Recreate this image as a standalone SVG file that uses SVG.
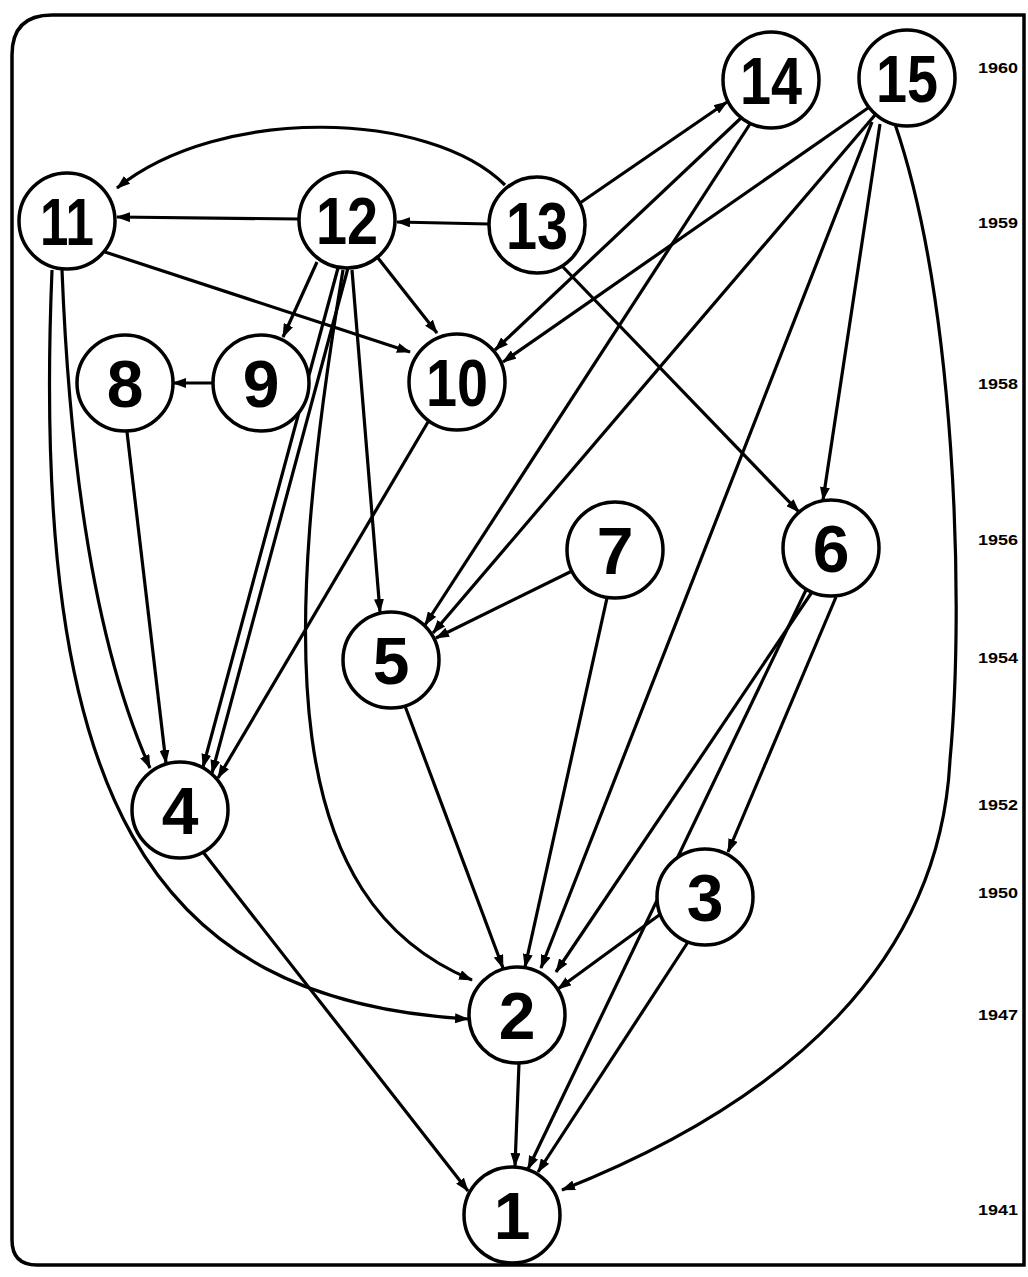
<svg xmlns="http://www.w3.org/2000/svg" width="1028" height="1277" viewBox="0 0 1028 1277">
<style>
.frame{fill:none;stroke:#000;stroke-width:3.5}
.node circle{fill:#fff;stroke:#000;stroke-width:3.5}
.node text{font-family:"Liberation Sans",Arial,sans-serif;font-weight:bold;font-size:66px;text-anchor:middle;fill:#000}
.edge{fill:none;stroke:#000;stroke-width:3.2;marker-end:url(#ah)}
.yr{font-family:"Liberation Sans",Arial,sans-serif;font-weight:bold;font-size:14px;text-anchor:end;fill:#000}
</style>
<defs>
<marker id="ah" viewBox="0 0 14 10" refX="13" refY="5" markerWidth="14" markerHeight="10" markerUnits="userSpaceOnUse" orient="auto"><path d="M0,0 L14,5 L0,10 z" fill="#000"/></marker>
</defs>
<rect width="1028" height="1277" fill="#fff"/>
<path class="frame" d="M1024,15 L52,15 Q12,15 12,55 L12,1240 Q12,1265 37,1265 L1024,1265 Z"/>
<g id="years">
<text class="yr" x="1018" y="73" textLength="40" lengthAdjust="spacingAndGlyphs">1960</text>
<text class="yr" x="1018" y="228" textLength="40" lengthAdjust="spacingAndGlyphs">1959</text>
<text class="yr" x="1018" y="389" textLength="40" lengthAdjust="spacingAndGlyphs">1958</text>
<text class="yr" x="1018" y="545" textLength="40" lengthAdjust="spacingAndGlyphs">1956</text>
<text class="yr" x="1018" y="663" textLength="40" lengthAdjust="spacingAndGlyphs">1954</text>
<text class="yr" x="1018" y="810" textLength="40" lengthAdjust="spacingAndGlyphs">1952</text>
<text class="yr" x="1018" y="898" textLength="40" lengthAdjust="spacingAndGlyphs">1950</text>
<text class="yr" x="1018" y="1020" textLength="40" lengthAdjust="spacingAndGlyphs">1947</text>
<text class="yr" x="1018" y="1215" textLength="40" lengthAdjust="spacingAndGlyphs">1941</text>
</g>
<g id="connectors">
<path id="e13-11" class="edge" d="M505,185 C430,110 220,105 117,188"/>
<path id="e12-11" class="edge" d="M299,219 L117,217"/>
<path id="e13-12" class="edge" d="M489,224 L397,222"/>
<path id="e13-14" class="edge" d="M580,203 L727,102"/>
<path id="e11-10" class="edge" d="M105,252 L410,352"/>
<path id="e12-9" class="edge" d="M317,262 L283,337"/>
<path id="e12-10" class="edge" d="M378,258 L437,333"/>
<path id="e9-8" class="edge" d="M213,383 L173,383"/>
<path id="e14-10" class="edge" d="M741,118 L495,350"/>
<path id="e15-10" class="edge" d="M868,108 L503,362"/>
<path id="e14-5" class="edge" d="M750,124 L425,625"/>
<path id="e15-5" class="edge" d="M875,115 L433,633"/>
<path id="e7-5" class="edge" d="M572,571 L436,638"/>
<path id="e12-5" class="edge" d="M352,270 L380,612"/>
<path id="e12-4a" class="edge" d="M338,268 L203,767"/>
<path id="e12-4b" class="edge" d="M348,268 L212,773"/>
<path id="e10-4" class="edge" d="M428,422 L218,778"/>
<path id="e11-4" class="edge" d="M62,270 Q75,600 150,768"/>
<path id="e8-4" class="edge" d="M127,432 L166,763"/>
<path id="e11-2" class="edge" d="M52,270 C30,800 150,1000 468,1019"/>
<path id="e12-2" class="edge" d="M343,270 C280,650 280,900 472,980"/>
<path id="e5-2" class="edge" d="M405,706 L503,968"/>
<path id="e7-2" class="edge" d="M607,598 L525,967"/>
<path id="e15-2" class="edge" d="M872,122 L541,968"/>
<path id="e6-2" class="edge" d="M812,592 L556,972"/>
<path id="e3-2" class="edge" d="M662,913 L558,989"/>
<path id="e6-3" class="edge" d="M836,597 L728,852"/>
<path id="e6-1" class="edge" d="M806,590 L528,1169"/>
<path id="e3-1" class="edge" d="M688,942 L538,1172"/>
<path id="e2-1" class="edge" d="M519,1063 L515,1166"/>
<path id="e4-1" class="edge" d="M203,852 L468,1191"/>
<path id="e15-1" class="edge" d="M895,124 C955,300 965,600 950,760 C940,960 790,1100 562,1190"/>
<path id="e15-6" class="edge" d="M880,124 L823,500"/>
<path id="e13-6" class="edge" d="M562,266 L799,512"/>
</g>
<g id="n1" class="node"><circle cx="512" cy="1215" r="48"/><text x="512" y="1239">1</text></g>
<g id="n2" class="node"><circle cx="517" cy="1015" r="48"/><text x="517" y="1039">2</text></g>
<g id="n3" class="node"><circle cx="705" cy="897" r="48"/><text x="705" y="921">3</text></g>
<g id="n4" class="node"><circle cx="180" cy="810" r="48"/><text x="180" y="834">4</text></g>
<g id="n5" class="node"><circle cx="391" cy="660" r="48"/><text x="391" y="684">5</text></g>
<g id="n6" class="node"><circle cx="831" cy="548" r="48"/><text x="831" y="572">6</text></g>
<g id="n7" class="node"><circle cx="615" cy="550" r="48"/><text x="615" y="574">7</text></g>
<g id="n8" class="node"><circle cx="125" cy="383" r="48"/><text x="125" y="407">8</text></g>
<g id="n9" class="node"><circle cx="261" cy="383" r="48"/><text x="261" y="407">9</text></g>
<g id="n10" class="node"><circle cx="457" cy="382" r="48"/><text x="457" y="406" textLength="62" lengthAdjust="spacingAndGlyphs">10</text></g>
<g id="n11" class="node"><circle cx="67" cy="221" r="48"/><text x="67" y="245" textLength="54" lengthAdjust="spacingAndGlyphs">11</text></g>
<g id="n12" class="node"><circle cx="347" cy="220" r="48"/><text x="347" y="244" textLength="62" lengthAdjust="spacingAndGlyphs">12</text></g>
<g id="n13" class="node"><circle cx="537" cy="225" r="48"/><text x="537" y="249" textLength="62" lengthAdjust="spacingAndGlyphs">13</text></g>
<g id="n14" class="node"><circle cx="771" cy="80" r="48"/><text x="771" y="104" textLength="62" lengthAdjust="spacingAndGlyphs">14</text></g>
<g id="n15" class="node"><circle cx="907" cy="78" r="48"/><text x="907" y="102" textLength="62" lengthAdjust="spacingAndGlyphs">15</text></g>
</svg>
